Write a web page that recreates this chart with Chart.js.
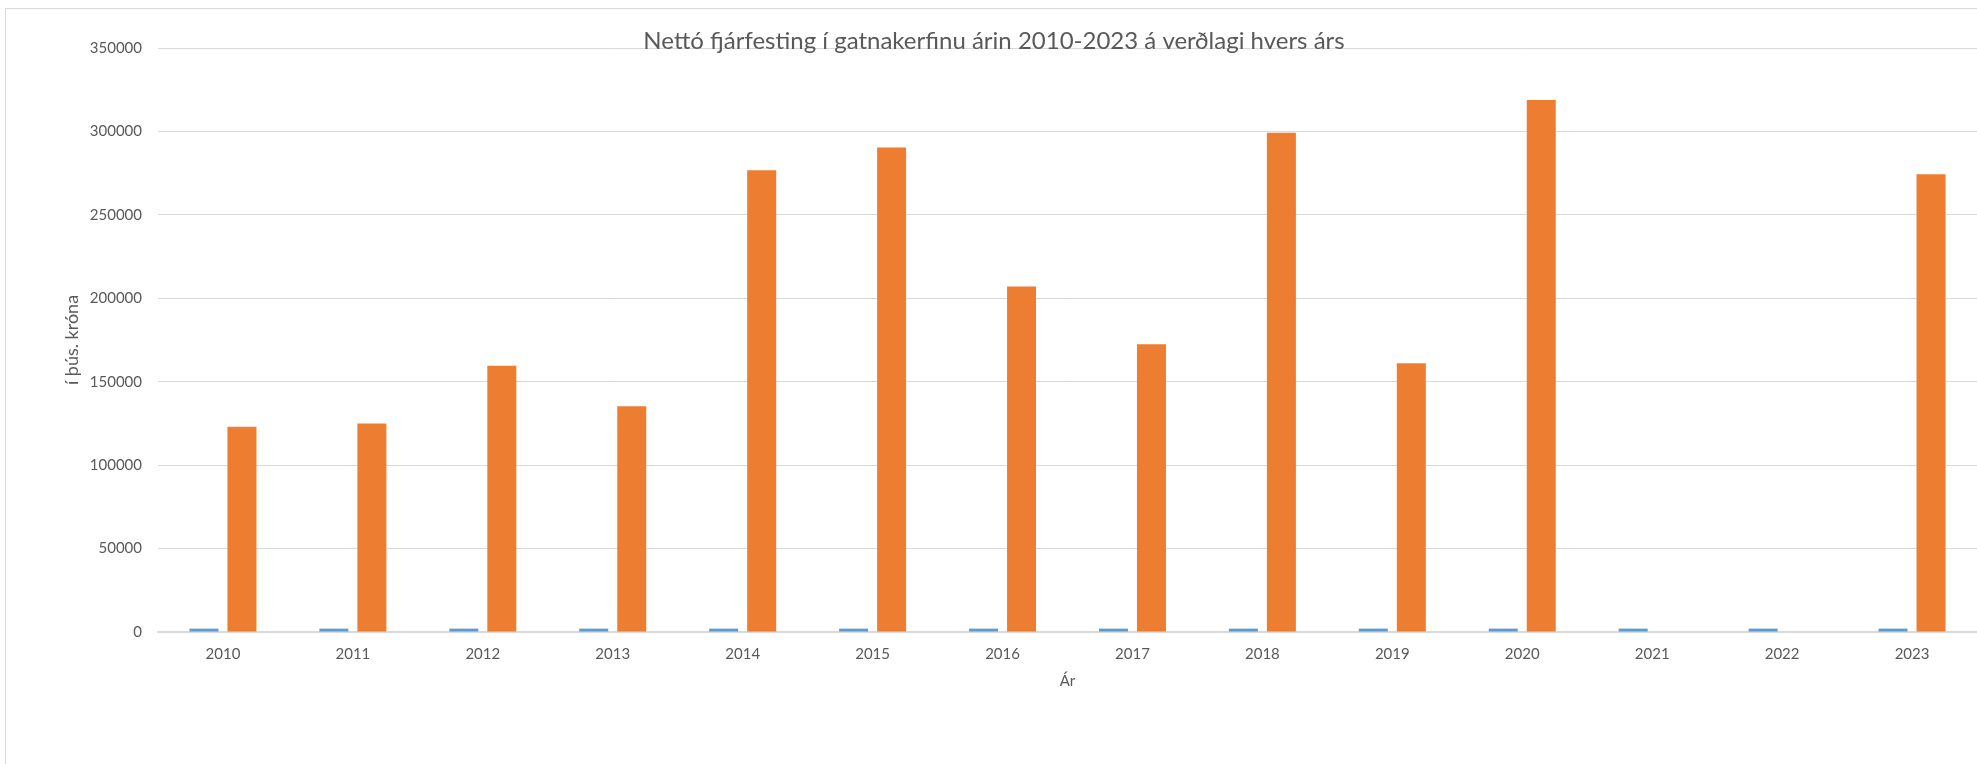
<!DOCTYPE html>
<html>
<head>
<meta charset="utf-8">
<script src="https://cdn.jsdelivr.net/npm/chart.js@4.4.0/dist/chart.umd.min.js"></script>
<style>
  html, body { margin: 0; padding: 0; background: #fff; }
  #wrap { width: 1977px; height: 764px; position: relative; }
</style>
</head>
<body>
<div id="wrap"><canvas id="myChart"></canvas></div>
<script>
// ---------------- Daten ----------------
const years = ['2010', '2011', '2012', '2013', '2014', '2015', '2016',
               '2017', '2018', '2019', '2020', '2021', '2022', '2023'];
// blái flokkurinn er ártalið sjálft (tekið með í Excel)
const yearSeries = [2010, 2011, 2012, 2013, 2014, 2015, 2016,
                    2017, 2018, 2019, 2020, 2021, 2022, 2023];
const investment = [123000, 125000, 159500, 135300, 276700, 290300, 207100,
                    172400, 299200, 161000, 318800, null, null, 274400];
const yTicks = [0, 50000, 100000, 150000, 200000, 250000, 300000, 350000];

const titleText = 'Nettó fjárfesting í gatnakerfinu árin 2010-2023 á verðlagi hvers árs';
const textColor = '#595959';
const gridColor = '#d9d9d9';

// ---------------- Rammi + titill ----------------
const framePlugin = {
  id: 'frame',
  beforeDraw(chart) {
    const ctx = chart.ctx;
    ctx.save();
    ctx.fillStyle = '#fff';
    ctx.fillRect(0, 0, chart.width, chart.height);
    ctx.strokeStyle = gridColor;
    ctx.lineWidth = 1;
    ctx.strokeRect(5.5, 8.5, chart.width + 20, chart.height + 20);
    ctx.restore();
  },
  afterDraw(chart) {
    const ctx = chart.ctx;
    ctx.save();
    ctx.font = '24px Lato';
    ctx.fillStyle = textColor;
    ctx.textAlign = 'center';
    ctx.textBaseline = 'middle';
    ctx.fillText(titleText, 994, 41);
    ctx.restore();
  }
};

// ---------------- Súlurit ----------------
new Chart(document.getElementById('myChart'), {
  type: 'bar',
  data: {
    labels: years,
    datasets: [
      { label: 'Ár', data: yearSeries, backgroundColor: '#5b9bd5' },
      { label: 'Fjárfesting', data: investment, backgroundColor: '#ed7d31' }
    ]
  },
  options: {
    responsive: true,
    maintainAspectRatio: false,
    animation: false,
    categoryPercentage: 0.585,
    barPercentage: 0.763,
    layout: { padding: { top: 48, right: 0, bottom: 0, left: 0 } },
    plugins: {
      legend: { display: false },
      title: { display: false },
      tooltip: { enabled: false }
    },
    scales: {
      x: {
        grid: { display: false, drawTicks: false },
        border: { display: true, color: gridColor, width: 2 },
        ticks: { color: textColor, font: { family: 'Lato', size: 15 }, padding: 13, maxRotation: 0 },
        title: { display: true, text: 'Ár', color: textColor, font: { family: 'Lato', size: 15 }, padding: { top: 0, bottom: 74 } },
        afterFit(scale) { scale.height = 132; }
      },
      y: {
        min: 0,
        max: 350000,
        afterBuildTicks(scale) { scale.ticks = yTicks.map(v => ({ value: v })); },
        grid: { color: gridColor, lineWidth: 1, drawTicks: false },
        border: { display: false },
        ticks: {
          color: textColor, font: { family: 'Lato', size: 15 }, padding: 16,
          callback: v => String(v)
        },
        title: { display: true, text: 'í þús. króna', color: textColor, font: { family: 'Lato', size: 18 }, padding: { top: 61, bottom: 0 } },
        afterFit(scale) { scale.width = 158; }
      }
    }
  },
  plugins: [framePlugin]
});
</script>
</body>
</html>
